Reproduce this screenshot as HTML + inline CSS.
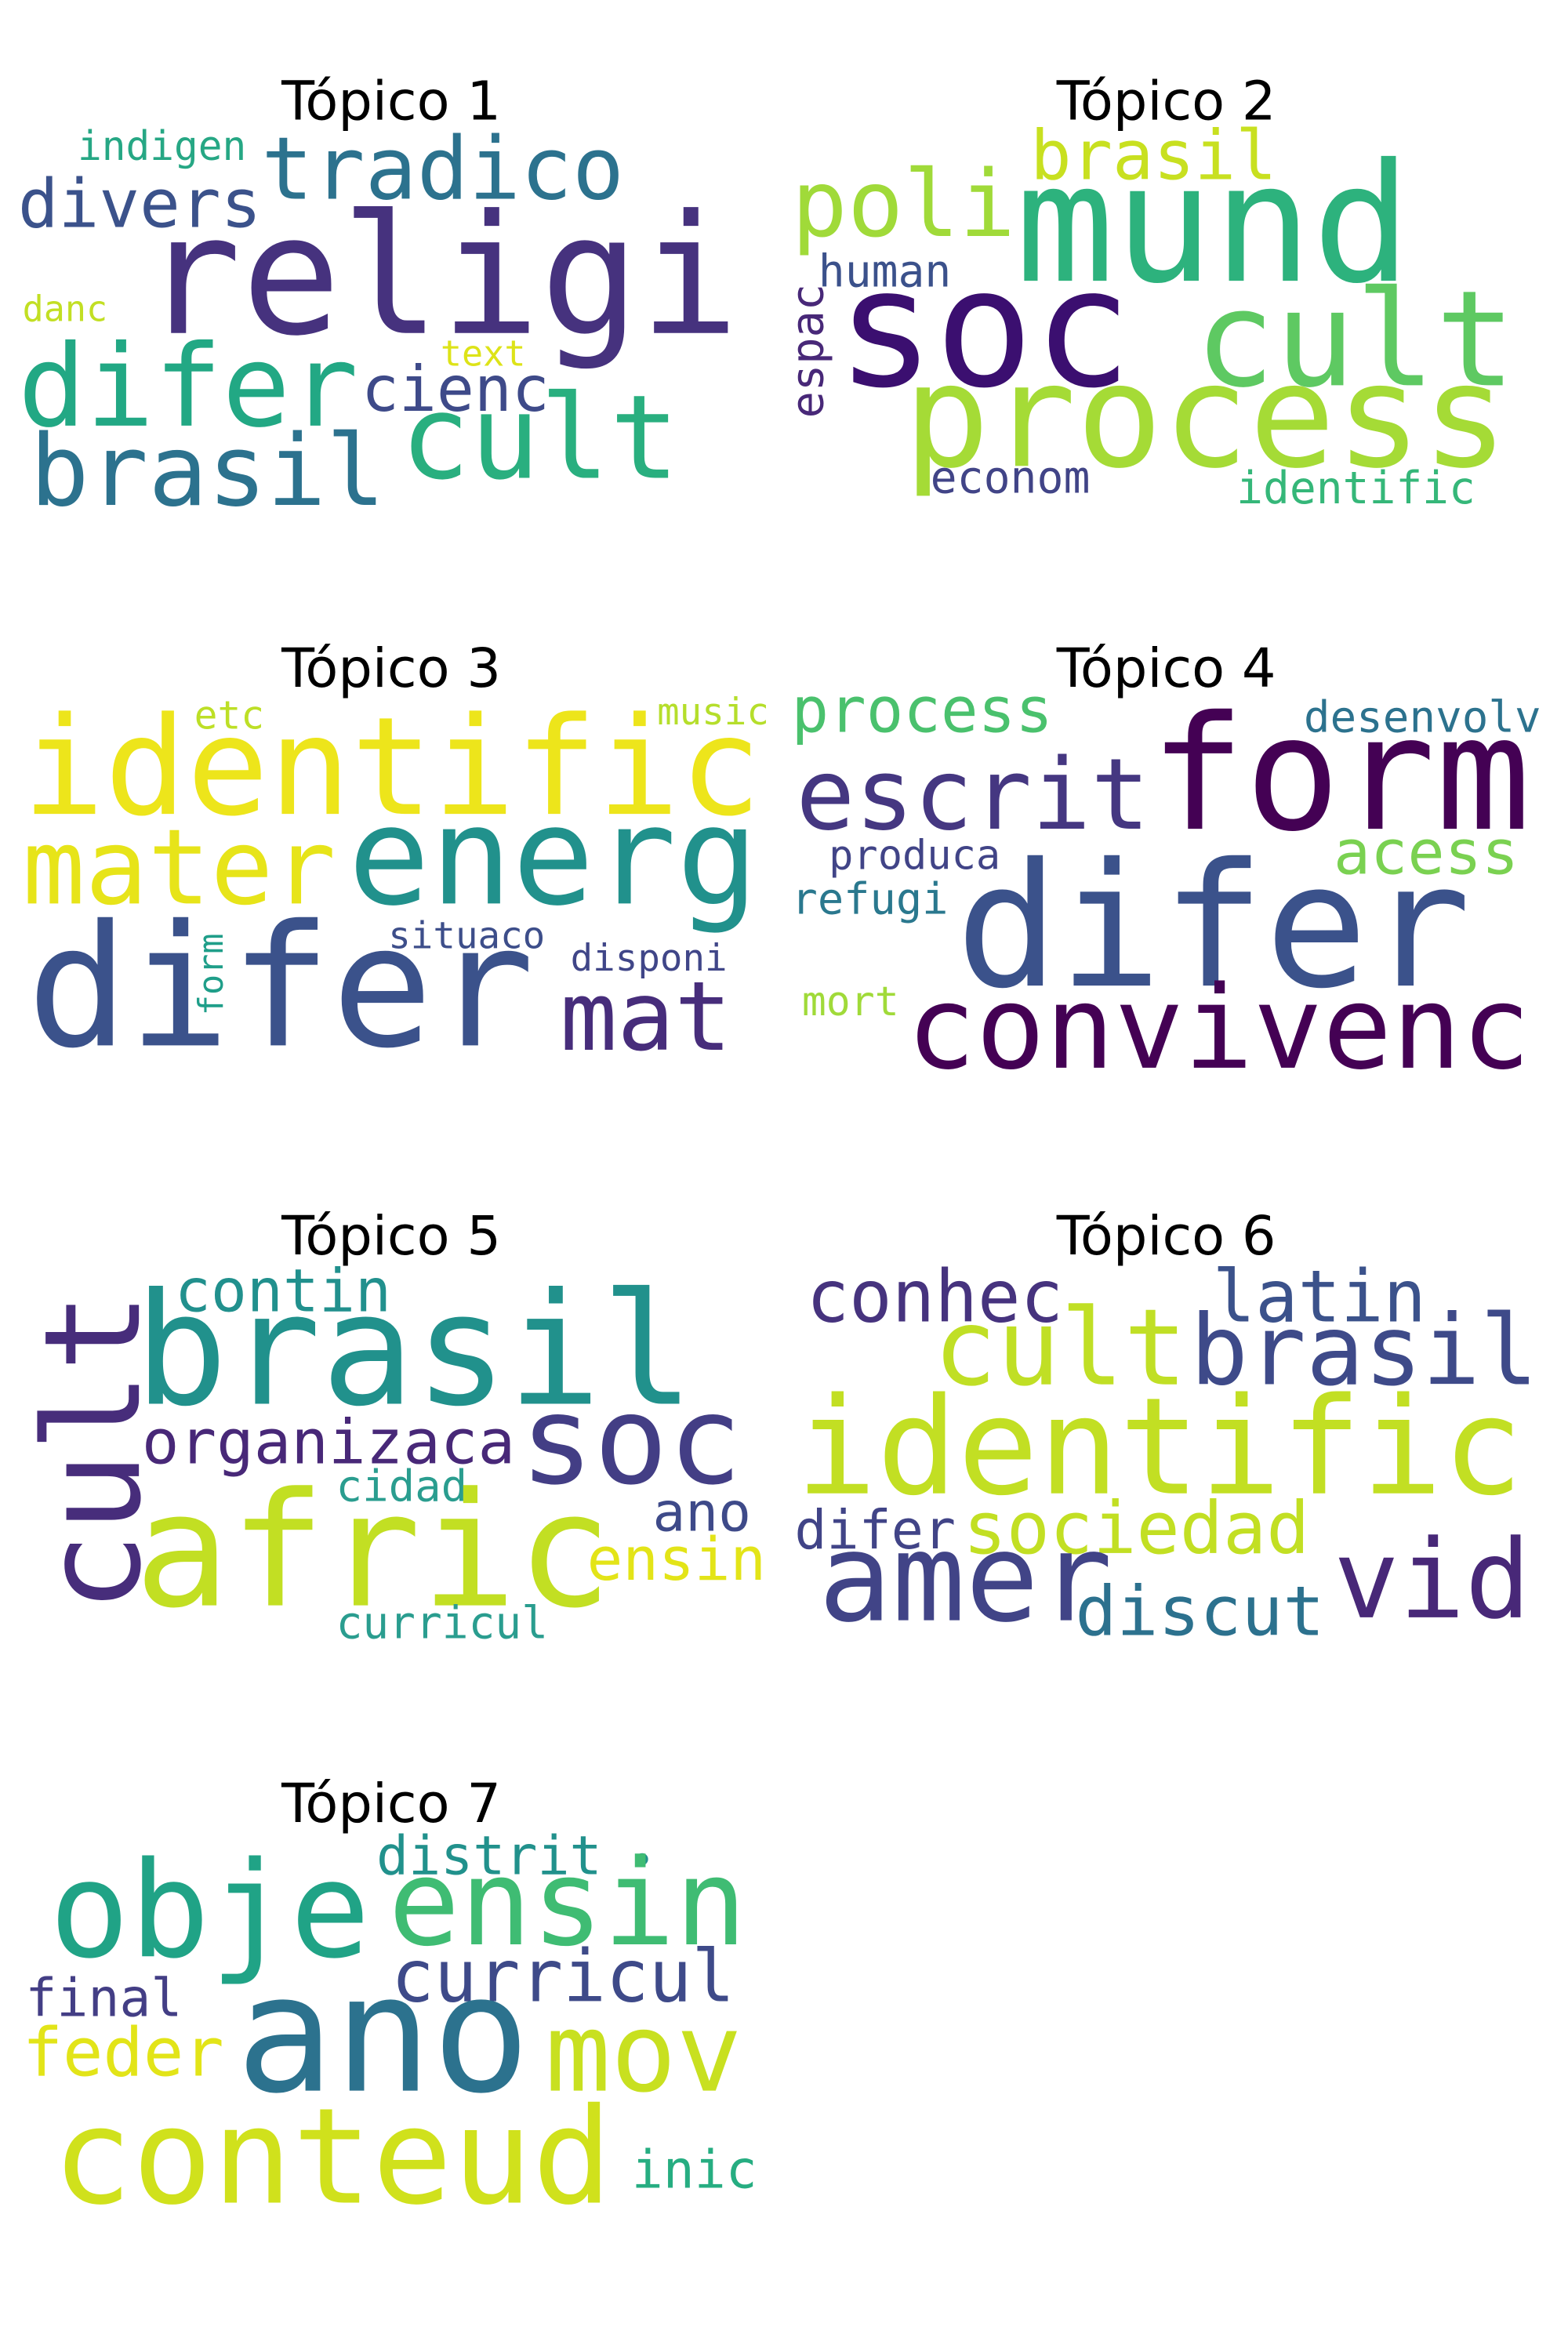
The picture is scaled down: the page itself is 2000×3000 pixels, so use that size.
<!DOCTYPE html>
<html><head><meta charset="utf-8"><style>
html,body{margin:0;padding:0;background:#fff;}
svg{display:block;}
.w{font-family:"DejaVu Sans Mono","Liberation Mono",monospace;}
.t{font-family:"DejaVu Sans","Liberation Sans",sans-serif;font-size:36px;fill:#000;}
</style></head><body>
<svg width="2000" height="3000" viewBox="0 0 1050 1575" preserveAspectRatio="none">
<rect width="1050" height="1575" fill="#fff"/>
<g class="w" lengthAdjust="spacingAndGlyphs">
<!-- Topic 1 -->
<g>
<text class="t" x="262" y="80" text-anchor="middle">Tópico 1</text>
<text x="52" y="107" font-size="27" fill="#26a784" textLength="113" lengthAdjust="spacingAndGlyphs">indigen</text>
<text x="175" y="133" font-size="58" fill="#2c728e" textLength="243" lengthAdjust="spacingAndGlyphs">tradico</text>
<text x="12" y="152" font-size="45" fill="#3b528b" textLength="163" lengthAdjust="spacingAndGlyphs">divers</text>
<text x="95" y="223" font-size="111" fill="#46327e" textLength="400" lengthAdjust="spacingAndGlyphs">religi</text>
<text x="15" y="215" font-size="24" fill="#c2df23" textLength="57" lengthAdjust="spacingAndGlyphs">danc</text>
<text x="295" y="245" font-size="24" fill="#dde318" textLength="57" lengthAdjust="spacingAndGlyphs">text</text>
<text x="12" y="285" font-size="76" fill="#22a884" textLength="228" lengthAdjust="spacingAndGlyphs">difer</text>
<text x="242" y="275" font-size="42" fill="#3e4a89" textLength="126" lengthAdjust="spacingAndGlyphs">cienc</text>
<text x="268" y="320" font-size="78" fill="#29af7f" textLength="187" lengthAdjust="spacingAndGlyphs">cult</text>
<text x="20" y="338" font-size="66" fill="#2c728e" textLength="238" lengthAdjust="spacingAndGlyphs">brasil</text>
</g>
<!-- Topic 2 -->
<g>
<text class="t" x="781" y="80" text-anchor="middle">Tópico 2</text>
<text x="690" y="120" font-size="46" fill="#c8e020" textLength="165" lengthAdjust="spacingAndGlyphs">brasil</text>
<text x="530" y="158" font-size="62" fill="#a0da39" textLength="150" lengthAdjust="spacingAndGlyphs">poli</text>
<text x="680" y="188" font-size="110" fill="#2db27d" textLength="265" lengthAdjust="spacingAndGlyphs">mund</text>
<text x="548" y="192" font-size="30" fill="#3b518b" textLength="89" lengthAdjust="spacingAndGlyphs">human</text>
<text x="560" y="258" font-size="110" fill="#3b0f70" textLength="198" lengthAdjust="spacingAndGlyphs">soc</text>
<text x="800" y="258" font-size="89" fill="#5ec962" textLength="215" lengthAdjust="spacingAndGlyphs">cult</text>
<text transform="translate(551,280) rotate(-90)" font-size="30" fill="#482878" textLength="90" lengthAdjust="spacingAndGlyphs">espac</text>
<text x="605" y="312" font-size="96" fill="#a5db36" textLength="405" lengthAdjust="spacingAndGlyphs">process</text>
<text x="623" y="330" font-size="30" fill="#414487" textLength="107" lengthAdjust="spacingAndGlyphs">econom</text>
<text x="828" y="337" font-size="30" fill="#35b779" textLength="160" lengthAdjust="spacingAndGlyphs">identific</text>
</g>
<!-- Topic 3 -->
<g>
<text class="t" x="262" y="460" text-anchor="middle">Tópico 3</text>
<text x="130" y="488" font-size="26" fill="#bddf26" textLength="47" lengthAdjust="spacingAndGlyphs">etc</text>
<text x="440" y="485" font-size="25" fill="#b5de2b" textLength="75" lengthAdjust="spacingAndGlyphs">music</text>
<text x="15" y="545" font-size="91" fill="#ede51b" textLength="495" lengthAdjust="spacingAndGlyphs">identific</text>
<text x="15" y="605" font-size="70" fill="#e7e419" textLength="210" lengthAdjust="spacingAndGlyphs">mater</text>
<text x="233" y="605" font-size="91" fill="#21918c" textLength="275" lengthAdjust="spacingAndGlyphs">energ</text>
<text x="18" y="700" font-size="113" fill="#3b528b" textLength="340" lengthAdjust="spacingAndGlyphs">difer</text>
<text transform="translate(149,680) rotate(-90)" font-size="23" fill="#1f9e89" textLength="55" lengthAdjust="spacingAndGlyphs">form</text>
<text x="260" y="635" font-size="25" fill="#3d4e8a" textLength="105" lengthAdjust="spacingAndGlyphs">situaco</text>
<text x="382" y="650" font-size="25" fill="#404688" textLength="105" lengthAdjust="spacingAndGlyphs">disponi</text>
<text x="375" y="703" font-size="64" fill="#472d7b" textLength="115" lengthAdjust="spacingAndGlyphs">mat</text>
</g>
<!-- Topic 4 -->
<g>
<text class="t" x="781" y="460" text-anchor="middle">Tópico 4</text>
<text x="530" y="490" font-size="42" fill="#4ac16d" textLength="175" lengthAdjust="spacingAndGlyphs">process</text>
<text x="873" y="490" font-size="29" fill="#2c728e" textLength="159" lengthAdjust="spacingAndGlyphs">desenvolv</text>
<text x="770" y="555" font-size="106" fill="#440154" textLength="255" lengthAdjust="spacingAndGlyphs">form</text>
<text x="533" y="555" font-size="66" fill="#453781" textLength="237" lengthAdjust="spacingAndGlyphs">escrit</text>
<text x="555" y="582" font-size="27" fill="#414487" textLength="115" lengthAdjust="spacingAndGlyphs">produca</text>
<text x="893" y="585" font-size="41" fill="#7ad151" textLength="124" lengthAdjust="spacingAndGlyphs">acess</text>
<text x="530" y="612" font-size="29" fill="#2a788e" textLength="105" lengthAdjust="spacingAndGlyphs">refugi</text>
<text x="640" y="660" font-size="115" fill="#3b528b" textLength="345" lengthAdjust="spacingAndGlyphs">difer</text>
<text x="537" y="680" font-size="27" fill="#a0da39" textLength="65" lengthAdjust="spacingAndGlyphs">mort</text>
<text x="607" y="715" font-size="77" fill="#440154" textLength="418" lengthAdjust="spacingAndGlyphs">convivenc</text>
</g>
<!-- Topic 5 -->
<g>
<text class="t" x="262" y="840" text-anchor="middle">Tópico 5</text>
<text transform="translate(93,1080) rotate(-90)" font-size="89" fill="#472d7b" textLength="215" lengthAdjust="spacingAndGlyphs">cult</text>
<text x="117" y="878" font-size="40" fill="#21908d" textLength="145" lengthAdjust="spacingAndGlyphs">contin</text>
<text x="90" y="940" font-size="104" fill="#21918c" textLength="375" lengthAdjust="spacingAndGlyphs">brasil</text>
<text x="95" y="980" font-size="41" fill="#482878" textLength="250" lengthAdjust="spacingAndGlyphs">organizaca</text>
<text x="348" y="993" font-size="82" fill="#433e85" textLength="149" lengthAdjust="spacingAndGlyphs">soc</text>
<text x="225" y="1005" font-size="29" fill="#2a9d8f" textLength="88" lengthAdjust="spacingAndGlyphs">cidad</text>
<text x="437" y="1025" font-size="36" fill="#3e4a89" textLength="66" lengthAdjust="spacingAndGlyphs">ano</text>
<text x="90" y="1075" font-size="106" fill="#c2df23" textLength="320" lengthAdjust="spacingAndGlyphs">afric</text>
<text x="393" y="1058" font-size="40" fill="#e3e418" textLength="120" lengthAdjust="spacingAndGlyphs">ensin</text>
<text x="225" y="1097" font-size="30" fill="#2a9d8f" textLength="142" lengthAdjust="spacingAndGlyphs">curricul</text>
</g>
<!-- Topic 6 -->
<g>
<text class="t" x="781" y="840" text-anchor="middle">Tópico 6</text>
<text x="540" y="885" font-size="48" fill="#46337e" textLength="172" lengthAdjust="spacingAndGlyphs">conhec</text>
<text x="812" y="885" font-size="48" fill="#3b528b" textLength="143" lengthAdjust="spacingAndGlyphs">latin</text>
<text x="625" y="927" font-size="71" fill="#c0df25" textLength="170" lengthAdjust="spacingAndGlyphs">cult</text>
<text x="797" y="927" font-size="65" fill="#3e4a89" textLength="233" lengthAdjust="spacingAndGlyphs">brasil</text>
<text x="533" y="1000" font-size="90" fill="#c2df23" textLength="487" lengthAdjust="spacingAndGlyphs">identific</text>
<text x="532" y="1037" font-size="36" fill="#414487" textLength="108" lengthAdjust="spacingAndGlyphs">difer</text>
<text x="645" y="1040" font-size="48" fill="#c2df23" textLength="232" lengthAdjust="spacingAndGlyphs">sociedad</text>
<text x="548" y="1085" font-size="82" fill="#414487" textLength="197" lengthAdjust="spacingAndGlyphs">amer</text>
<text x="893" y="1083" font-size="73" fill="#482878" textLength="132" lengthAdjust="spacingAndGlyphs">vid</text>
<text x="720" y="1095" font-size="46" fill="#2c718e" textLength="167" lengthAdjust="spacingAndGlyphs">discut</text>
</g>
<!-- Topic 7 -->
<g>
<text class="t" x="262" y="1220" text-anchor="middle">Tópico 7</text>
<text x="252" y="1255" font-size="36" fill="#21918c" textLength="151" lengthAdjust="spacingAndGlyphs">distrit</text>
<circle cx="430" cy="1245" r="4" fill="#21918c"/>
<text x="33" y="1310" font-size="89" fill="#20a386" textLength="215" lengthAdjust="spacingAndGlyphs">obje</text>
<text x="260" y="1302" font-size="80" fill="#3fbc73" textLength="240" lengthAdjust="spacingAndGlyphs">ensin</text>
<text x="262" y="1340" font-size="48" fill="#3e4a89" textLength="230" lengthAdjust="spacingAndGlyphs">curricul</text>
<text x="17" y="1350" font-size="35" fill="#433e85" textLength="105" lengthAdjust="spacingAndGlyphs">final</text>
<text x="15" y="1390" font-size="45" fill="#e2e418" textLength="135" lengthAdjust="spacingAndGlyphs">feder</text>
<text x="158" y="1400" font-size="109" fill="#2c728e" textLength="197" lengthAdjust="spacingAndGlyphs">ano</text>
<text x="365" y="1400" font-size="73" fill="#c8e020" textLength="132" lengthAdjust="spacingAndGlyphs">mov</text>
<text x="35" y="1475" font-size="89" fill="#d0e11c" textLength="375" lengthAdjust="spacingAndGlyphs">conteud</text>
<text x="423" y="1465" font-size="35" fill="#26ad81" textLength="84" lengthAdjust="spacingAndGlyphs">inic</text>
</g>
</g>
</svg>
</body></html>
